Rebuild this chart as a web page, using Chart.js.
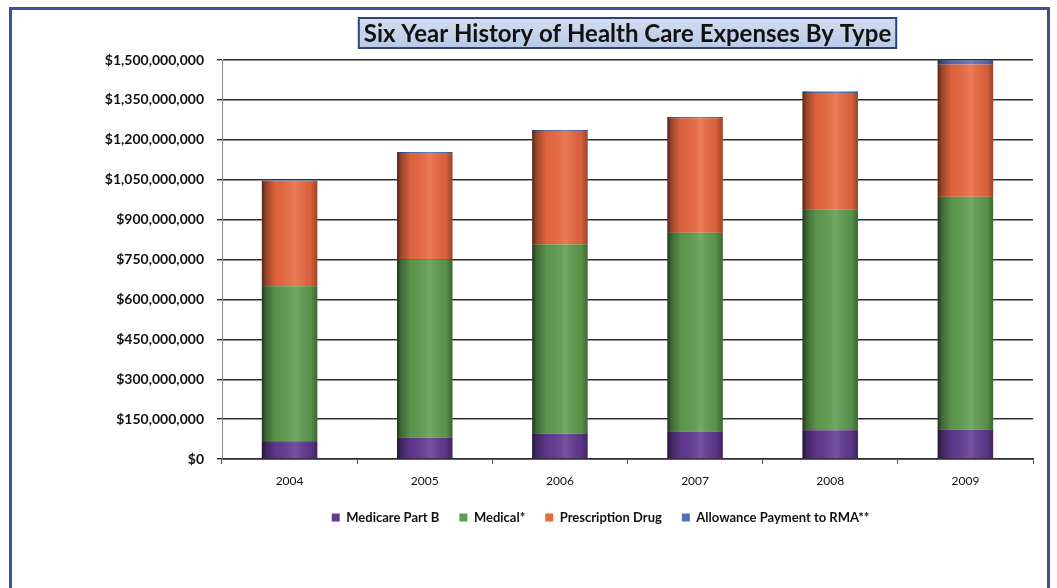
<!DOCTYPE html>
<html>
<head>
<meta charset="utf-8">
<script src="https://cdn.jsdelivr.net/npm/chart.js@4.4.1/dist/chart.umd.min.js"></script>
<style>
    html, body { margin: 0; padding: 0; background: #fff; overflow: hidden; }
    #frame {
        position: absolute; left: 9px; top: 7px; width: 1035px; height: 640px;
        border: 3px solid #3d5196; box-sizing: content-box;
    }
    #wrap { position: absolute; left: 0; top: 0; width: 1057px; height: 588px; }
</style>
</head>
<body>
<div id="frame"></div>
<div id="wrap"><canvas id="chart"></canvas></div>
<script>
const years = ['2004', '2005', '2006', '2007', '2008', '2009'];
const medicarePartB = [67e6, 80e6, 95e6, 103e6, 108e6, 110e6];
const medical = [582e6, 670e6, 711e6, 748e6, 829e6, 876e6];
const prescriptionDrug = [393e6, 400e6, 427e6, 430e6, 439e6, 497e6];
const allowanceRMA = [4e6, 4e6, 4e6, 5e6, 6e6, 17e6];

const titleText = 'Six Year History of Health Care Expenses By Type';

// boxed title above the plot
const titleBox = {
    id: 'titleBox',
    beforeDraw(chart) {
        const ctx = chart.ctx;
        const area = chart.chartArea;
        ctx.save();
        ctx.font = 'bold 24px Lato';
        const w = ctx.measureText(titleText).width + 10;
        const cx = (area.left + area.right) / 2;
        const x = cx - w / 2, y = 18, h = 30;
        const g = ctx.createLinearGradient(0, y, 0, y + h);
        g.addColorStop(0, '#d3ddf0');
        g.addColorStop(1, '#b9c9e6');
        ctx.fillStyle = g;
        ctx.fillRect(x, y, w, h);
        ctx.lineWidth = 2;
        ctx.strokeStyle = '#2f417f';
        ctx.strokeRect(x, y, w, h);
        ctx.fillStyle = '#111';
        ctx.textAlign = 'center';
        ctx.textBaseline = 'middle';
        ctx.fillText(titleText, cx, y + h / 2 + 1);
        ctx.restore();
    }
};

// cylinder-like shading over each bar
const barShade = {
    id: 'barShade',
    afterDatasetsDraw(chart) {
        const ctx = chart.ctx;
        ctx.save();
        chart.data.datasets.forEach((ds, i) => {
            chart.getDatasetMeta(i).data.forEach(bar => {
                const p = bar.getProps(['x', 'y', 'base', 'width'], true);
                const left = p.x - p.width / 2;
                const top = Math.min(p.y, p.base);
                const h = Math.abs(p.base - p.y);
                const g = ctx.createLinearGradient(left, 0, left + p.width, 0);
                g.addColorStop(0, 'rgba(0,0,0,0.65)');
                g.addColorStop(0.07, 'rgba(0,0,0,0.35)');
                g.addColorStop(0.25, 'rgba(0,0,0,0.05)');
                g.addColorStop(0.6, 'rgba(255,255,255,0.12)');
                g.addColorStop(0.88, 'rgba(0,0,0,0.08)');
                g.addColorStop(1, 'rgba(0,0,0,0.35)');
                ctx.fillStyle = g;
                ctx.fillRect(left, top, p.width, h);
            });
        });
        ctx.restore();
    }
};

// move the legend a little right of the canvas centre
const legendShift = {
    id: 'legendShift',
    afterLayout(chart) {
        chart.legend.left += 33;
        chart.legend.right += 33;
    }
};

Chart.defaults.font.family = 'Lato';
Chart.defaults.color = '#111';

const ctx = document.getElementById('chart');
new Chart(ctx, {
    type: 'bar',
    data: {
        labels: years,
        datasets: [
            { label: 'Medicare Part B', data: medicarePartB, backgroundColor: '#633a92' },
            { label: 'Medical*', data: medical, backgroundColor: '#5f9d50' },
            { label: 'Prescription Drug', data: prescriptionDrug, backgroundColor: '#ea6840' },
            { label: 'Allowance Payment to RMA**', data: allowanceRMA, backgroundColor: '#5870b2' }
        ]
    },
    options: {
        responsive: true,
        maintainAspectRatio: false,
        animation: false,
        layout: { padding: { left: 102, right: 24, top: 60, bottom: 54 } },
        datasets: {
            bar: { categoryPercentage: 1, barPercentage: 0.41 }
        },
        scales: {
            x: {
                stacked: true,
                afterFit: function(scale) { scale.height = 32; },
                grid: { display: true, drawOnChartArea: false, offset: true, tickLength: 5, color: '#555' },
                border: { color: '#2a2a2a', width: 1.5 },
                ticks: { padding: 10, font: { size: 12 }, color: '#111' }
            },
            y: {
                stacked: true,
                min: 0,
                max: 1500000000,
                afterFit: function(scale) { scale.width = 120; },
                grid: { color: '#2e2e2e', lineWidth: 1.4, tickLength: 5 },
                border: { color: '#8a8a8a', width: 1 },
                ticks: {
                    stepSize: 150000000,
                    padding: 13,
                    font: { size: 14, weight: 'bold' },
                    color: '#111',
                    callback: function(value) {
                        return '$' + value.toLocaleString('en-US');
                    }
                }
            }
        },
        plugins: {
            legend: {
                position: 'bottom',
                labels: {
                    boxWidth: 8,
                    boxHeight: 8,
                    padding: 20,
                    font: { size: 13, weight: 'bold' },
                    color: '#111'
                }
            },
            title: { display: false },
            tooltip: { enabled: false }
        }
    },
    plugins: [titleBox, barShade, legendShift]
});
</script>
</body>
</html>
